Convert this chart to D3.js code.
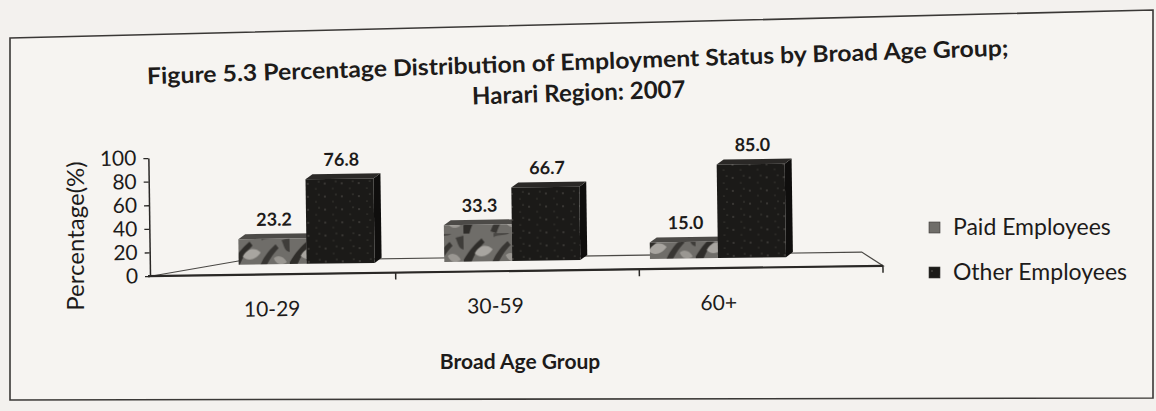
<!DOCTYPE html>
<html lang="en">
<head>
  <meta charset="UTF-8">
  <title>Figure 5.3</title>
  <script src="https://cdn.jsdelivr.net/npm/d3@7"></script>
  <style>
    body { margin: 0; background: #f3f1ee; }
    text { font-family: Lato, "Open Sans", sans-serif; fill: #1d1b1a; }
  </style>
</head>
<body>
  <div id="container"></div>

  <script>
    // data
    const categories = ["10-29", "30-59", "60+"];
    const series = ["Paid Employees", "Other Employees"];
    const paid = [23.2, 33.3, 15.0];
    const other = [76.8, 66.7, 85.0];
    const yTicks = [0, 20, 40, 60, 80, 100];

    const width = 1156;
    const height = 411;

    const svg = d3.select("#container")
      .append("svg")
      .attr("width", width)
      .attr("height", height)
      .attr("viewBox", [0, 0, width, height]);

    // textures (mottled grey for paid, speckled black for other)
    const defs = svg.append("defs");
    const pat = defs.append("pattern")
      .attr("id", "paidTex")
      .attr("patternUnits", "userSpaceOnUse")
      .attr("width", 58).attr("height", 34);
    pat.append("rect").attr("width", 58).attr("height", 34).attr("fill", "#6f6d69");
    pat.append("path").attr("d", "M0 26 C6 16 12 10 18 5 L21 9 C15 15 9 22 6 34 L0 34 Z").attr("fill", "#2f2d2a");
    pat.append("path").attr("d", "M27 32 C31 22 36 15 44 8 L47 12 C41 18 36 25 33 34 Z").attr("fill", "#383633");
    pat.append("path").attr("d", "M11 20 C15 12 23 10 29 16 C25 22 17 26 11 20 Z").attr("fill", "#a8a5a0");
    pat.append("path").attr("d", "M42 22 C46 18 52 20 55 26 C50 30 44 28 42 22 Z").attr("fill", "#9a9792");
    pat.append("path").attr("d", "M30 4 C36 1 42 3 46 0 L30 0 Z").attr("fill", "#4a4845");
    pat.append("path").attr("d", "M50 4 C53 10 52 14 58 16 L58 2 Z").attr("fill", "#3f3d3a");

    const pat2 = defs.append("pattern")
      .attr("id", "otherTex")
      .attr("patternUnits", "userSpaceOnUse")
      .attr("width", 17).attr("height", 13);
    pat2.append("rect").attr("width", 17).attr("height", 13).attr("fill", "#1b1a18");
    pat2.append("circle").attr("cx", 3).attr("cy", 4).attr("r", 0.7).attr("fill", "#6d6a64");
    pat2.append("circle").attr("cx", 11).attr("cy", 9).attr("r", 0.6).attr("fill", "#5a5750");
    pat2.append("circle").attr("cx", 14).attr("cy", 2).attr("r", 0.5).attr("fill", "#7a766e");

    // frame (scan is slightly skewed)
    svg.append("polygon")
      .attr("points", "10,38 1153,10 1153,398 10,400")
      .attr("fill", "#f6f4f1")
      .attr("stroke", "#3a3836")
      .attr("stroke-width", 1.6);

    // title
    const title = svg.append("g").attr("transform", "rotate(-1.9, 578, 70)");
    title.append("text")
      .attr("x", 578).attr("y", 70)
      .attr("text-anchor", "middle")
      .attr("font-size", 23).attr("font-weight", "bold")
      .attr("textLength", 862).attr("lengthAdjust", "spacingAndGlyphs")
      .text("Figure 5.3 Percentage Distribution of Employment Status by Broad Age Group;");
    title.append("text")
      .attr("x", 578).attr("y", 101)
      .attr("text-anchor", "middle")
      .attr("font-size", 24).attr("font-weight", "bold")
      .text("Harari Region: 2007");

    // scales
    const yAxisScale = d3.scaleLinear().domain([0, 100]).range([276, 158]);
    const yBar = d3.scaleLinear().domain([0, 100]).range([266, 156]);
    const xAxis = d3.scaleBand().domain(categories).range([152, 883]);
    const xBar = d3.scaleBand().domain(categories).range([208, 825]);
    const xSub = d3.scaleBand().domain(series).range([0, 136]);
    const xLab = d3.scaleBand().domain(categories).range([160, 830]);
    const color = d3.scaleOrdinal().domain(series).range(["url(#paidTex)", "url(#otherTex)"]);
    const dx = 7, dy = 5;

    const plot = svg.append("g").attr("transform", "rotate(-0.8, 152, 276)");

    // 3D floor
    const fl = xAxis.range();
    plot.append("polygon")
      .attr("points", [[fl[0], 276], [240, 262], [862, 262], [fl[1], 276]].join(" "))
      .attr("fill", "none")
      .attr("stroke", "#4a4845")
      .attr("stroke-width", 1.2);
    plot.append("line")
      .attr("x1", fl[0] - 4).attr("x2", fl[1])
      .attr("y1", 276).attr("y2", 276)
      .attr("stroke", "#2a2826").attr("stroke-width", 2.2);

    // category ticks
    plot.append("g")
      .selectAll("line")
      .data(categories)
      .join("line")
      .attr("x1", d => xAxis(d) + xAxis.bandwidth())
      .attr("x2", d => xAxis(d) + xAxis.bandwidth())
      .attr("y1", 276).attr("y2", 283)
      .attr("stroke", "#2a2826").attr("stroke-width", 1.5);

    // y axis
    const yg = plot.append("g")
      .attr("transform", "translate(150,0)")
      .call(d3.axisLeft(yAxisScale).tickValues(yTicks).tickSize(5).tickSizeOuter(0).tickPadding(7));
    yg.select(".domain").attr("stroke", "#2a2826").attr("stroke-width", 1.5);
    yg.selectAll(".tick line").attr("stroke", "#2a2826").attr("stroke-width", 1.3);
    yg.selectAll(".tick text")
      .attr("font-size", 21)
      .attr("font-family", "Lato, sans-serif")
      .attr("fill", "#1d1b1a");

    // bars
    const rows = [];
    categories.forEach((c, i) => {
      rows.push({ cat: c, s: series[0], v: paid[i] });
      rows.push({ cat: c, s: series[1], v: other[i] });
    });

    const bars = plot.append("g")
      .selectAll("g")
      .data(rows)
      .join("g");

    const bx = d => xBar(d.cat) + xBar.bandwidth() / 2 - 72 + xSub(d.s);
    const bw = xSub.bandwidth();

    bars.append("polygon")
      .attr("points", d => {
        const x0 = bx(d), yT = yBar(d.v), yB = yBar(0);
        return [[x0 + bw, yT], [x0 + bw + dx, yT - dy], [x0 + bw + dx, yB - dy], [x0 + bw, yB]].join(" ");
      })
      .attr("fill", d => d.s === series[0] ? "#3b3936" : "#0f0e0d");
    bars.append("polygon")
      .attr("points", d => {
        const x0 = bx(d), yT = yBar(d.v);
        return [[x0, yT], [x0 + dx, yT - dy], [x0 + bw + dx, yT - dy], [x0 + bw, yT]].join(" ");
      })
      .attr("fill", d => d.s === series[0] ? "#4c4a47" : "#2a2826");
    bars.append("rect")
      .attr("x", d => bx(d))
      .attr("y", d => yBar(d.v))
      .attr("width", bw)
      .attr("height", d => yBar(0) - yBar(d.v))
      .attr("fill", d => color(d.s));

    // value labels
    plot.append("g")
      .selectAll("text")
      .data(rows)
      .join("text")
      .attr("x", d => bx(d) + bw / 2 + 2)
      .attr("y", d => yBar(d.v) - 13)
      .attr("text-anchor", "middle")
      .attr("font-size", 18)
      .attr("font-weight", "bold")
      .text(d => d.v.toFixed(1));

    // category labels
    plot.append("g")
      .selectAll("text")
      .data(categories)
      .join("text")
      .attr("x", d => xLab(d) + xLab.bandwidth() / 2)
      .attr("y", 318)
      .attr("text-anchor", "middle")
      .attr("font-size", 21)
      .text(d => d);

    // axis titles
    svg.append("text")
      .attr("x", 520).attr("y", 369)
      .attr("text-anchor", "middle")
      .attr("font-size", 21).attr("font-weight", "bold")
      .text("Broad Age Group");
    svg.append("text")
      .attr("transform", "translate(84,236) rotate(-90)")
      .attr("text-anchor", "middle")
      .attr("font-size", 24)
      .text("Percentage(%)");

    // legend
    const legend = svg.append("g")
      .selectAll("g")
      .data(series)
      .join("g")
      .attr("transform", (d, i) => `translate(929,${222 + i * 45})`);
    legend.append("rect")
      .attr("width", 11).attr("height", 11)
      .attr("fill", d => color(d))
      .attr("stroke", "#3a3836").attr("stroke-width", 0.6);
    legend.append("text")
      .attr("x", 24).attr("y", 13)
      .attr("font-size", 23)
      .text(d => d);
  </script>
</body>
</html>
